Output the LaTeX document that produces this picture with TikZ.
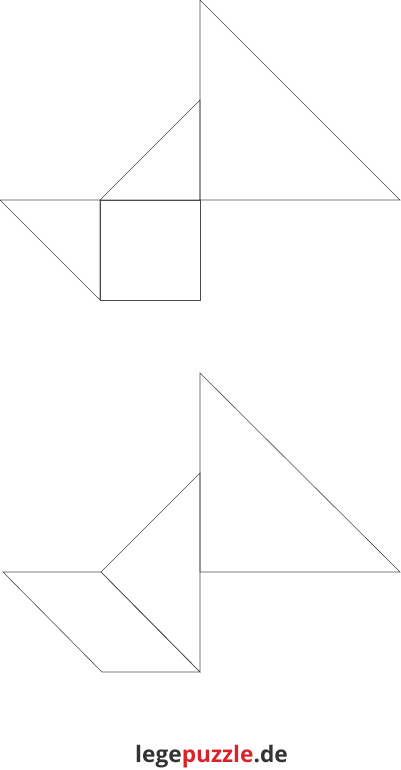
\documentclass[tikz,border=0pt]{standalone}
\usepackage{fontspec}
\setmainfont{Open Sans}
\definecolor{logogray}{HTML}{333333}
\definecolor{logored}{HTML}{D9232A}

\begin{document}
\begin{tikzpicture}[x=1pt,y=-1pt,piece/.style={line width=0.6pt,color=black!70,line join=miter}]
			%%%%% START %%%%%
			\useasboundingbox (0,0) rectangle (400,770);
			
			% upper figure
			\draw[piece] (200,0) -- (400,200) -- (200,200) -- cycle;
			\draw[piece] (100,200) -- (200,100) -- (200,200) -- cycle;
			\draw[piece] (0,200) -- (100,200) -- (100,300) -- cycle;
			\draw[piece] (100,200) rectangle (200,300);
			
			% lower figure
			\draw[piece] (200,373) -- (400,572) -- (200,572) -- cycle;
			\draw[piece] (101,572) -- (200,473) -- (200,672) -- cycle;
			\draw[piece] (3,572) -- (101,572) -- (200,672) -- (102,672) -- cycle;
			
			\node[anchor=base,inner sep=0pt,font=\fontsize{22.7}{26}\selectfont\bfseries] (logo) at (211.5,762)
				{\textcolor{logogray}{lege}\textcolor{logored}{puzzle}\textcolor{logogray}{.de}};
			
			%%%%% END %%%%%
\end{tikzpicture}
\end{document}
